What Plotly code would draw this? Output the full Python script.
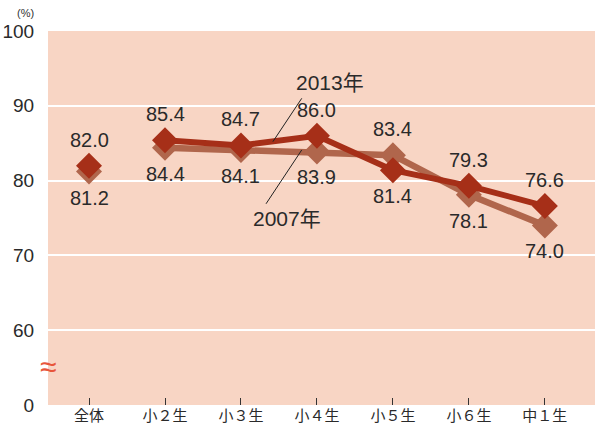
import plotly.graph_objects as go

categories = ["全体", "小２生", "小３生", "小４生", "小５生", "小６生", "中１生"]
y2013 = [82.0, 85.4, 84.7, 86.0, 81.4, 79.3, 76.6]
y2007 = [81.2, 84.4, 84.1, 83.9, 83.4, 78.1, 74.0]
above2013 = [True, True, True, True, False, True, True]
above2007 = [False, False, False, False, True, False, False]
ytickvals = [50, 60, 70, 80, 90, 100]
yticktext = ["0", "60", "70", "80", "90", "100"]

FONT = "Liberation Sans, Arial, Noto Sans CJK JP"
C13 = "#A62F18"
C07 = "#B0664C"
xs = list(range(len(categories)))

fig = go.Figure()
fig.add_trace(go.Scatter(x=xs[1:], y=y2007[1:], mode="lines",
                         line=dict(color=C07, width=6.5), hoverinfo="skip", showlegend=False))
fig.add_trace(go.Scatter(x=xs, y=y2007, mode="markers",
                         marker=dict(symbol="diamond", size=20, color=C07), showlegend=False))
fig.add_trace(go.Scatter(x=xs[1:], y=y2013[1:], mode="lines",
                         line=dict(color=C13, width=6), hoverinfo="skip", showlegend=False))
fig.add_trace(go.Scatter(x=xs, y=y2013, mode="markers",
                         marker=dict(symbol="diamond", size=20, color=C13), showlegend=False))

for vals, above in ((y2013, above2013), (y2007, above2007)):
    for xi, v, a in zip(xs, vals, above):
        fig.add_annotation(x=xi, y=v, text=f"{v:.1f}", showarrow=False,
                           yshift=26 if a else -26,
                           font=dict(size=20, color="#2a2a2a", family=FONT))

fig.add_shape(type="line", x0=2.80, y0=91.0, x1=2.42, y1=85.2, line=dict(color="#222", width=1))
fig.add_shape(type="line", x0=2.80, y0=84.1, x1=2.33, y1=76.9, line=dict(color="#222", width=1))
fig.add_annotation(x=3.17, y=93.05, text="2013年", showarrow=False,
                   font=dict(size=21, color="#2a2a2a", family=FONT))
fig.add_annotation(x=2.61, y=75.0, text="2007年", showarrow=False,
                   font=dict(size=21, color="#2a2a2a", family=FONT))
fig.add_annotation(xref="paper", x=0, y=55.1, text="≈", showarrow=False, xanchor="center",
                   font=dict(size=30, color="#E8553A", family=FONT))
fig.add_annotation(xref="paper", yref="paper", x=-0.042, y=1.048, xanchor="center",
                   yanchor="middle", text="(%)",
                   showarrow=False, font=dict(size=11, color="#333", family=FONT))

fig.update_layout(
    width=595, height=430,
    margin=dict(l=48, r=0, t=31, b=25),
    plot_bgcolor="#F8D5C4", paper_bgcolor="white",
    font=dict(family=FONT, color="#2a2a2a"),
    xaxis=dict(range=[-0.54, 6.66], tickmode="array", tickvals=xs, ticktext=categories,
               ticks="inside", ticklen=7, tickcolor="#333", tickwidth=1, automargin=False,
               showgrid=False, zeroline=False, showline=False,
               tickfont=dict(size=15, family="Noto Sans CJK JP", color="#2a2a2a")),
    yaxis=dict(range=[50, 100], tickmode="array", tickvals=ytickvals, ticktext=yticktext,
               showgrid=True, gridcolor="white", gridwidth=1.5, zeroline=False, showline=False,
               ticks="outside", ticklen=9, tickcolor="rgba(0,0,0,0)", automargin=False,
               tickfont=dict(size=19, family=FONT, color="#2a2a2a")),
)
fig.write_html("out.html", config={"responsive": False, "displayModeBar": False},
               post_script="document.body.style.margin='0';document.body.style.overflow='hidden';")
